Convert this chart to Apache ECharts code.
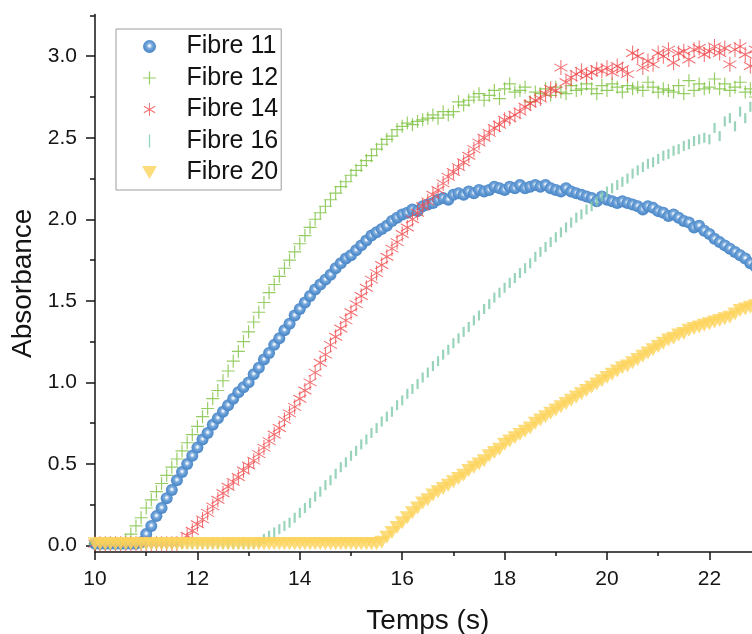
<!DOCTYPE html>
<html><head><meta charset="utf-8">
<script src="https://cdn.jsdelivr.net/npm/echarts@6/dist/echarts.min.js"></script>
<style>html,body{margin:0;padding:0;background:#fff}#c{width:752px;height:634px}</style>
</head><body><div id="c"></div>
<script>
const times = [
10.0,10.1,10.2,10.3,10.4,10.5,10.6,10.7,10.8,10.9,
11.0,11.1,11.2,11.3,11.4,11.5,11.6,11.7,11.8,11.9,
12.0,12.1,12.2,12.3,12.4,12.5,12.6,12.7,12.8,12.9,
13.0,13.1,13.2,13.3,13.4,13.5,13.6,13.7,13.8,13.9,
14.0,14.1,14.2,14.3,14.4,14.5,14.6,14.7,14.8,14.9,
15.0,15.1,15.2,15.3,15.4,15.5,15.6,15.7,15.8,15.9,
16.0,16.1,16.2,16.3,16.4,16.5,16.6,16.7,16.8,16.9,
17.0,17.1,17.2,17.3,17.4,17.5,17.6,17.7,17.8,17.9,
18.0,18.1,18.2,18.3,18.4,18.5,18.6,18.7,18.8,18.9,
19.0,19.1,19.2,19.3,19.4,19.5,19.6,19.7,19.8,19.9,
20.0,20.1,20.2,20.3,20.4,20.5,20.6,20.7,20.8,20.9,
21.0,21.1,21.2,21.3,21.4,21.5,21.6,21.7,21.8,21.9,
22.0,22.1,22.2,22.3,22.4,22.5,22.6,22.7,22.8,22.9,
23.0];

const fibre11 = [
0.01,0.01,0.01,0.01,0.01,0.01,0.01,0.01,0.01,0.02,
0.07,0.12,0.18,0.23,0.29,0.34,0.40,0.45,0.50,0.55,
0.60,0.65,0.69,0.74,0.78,0.82,0.86,0.90,0.94,0.97,
1.00,1.05,1.09,1.14,1.18,1.23,1.27,1.32,1.36,1.41,
1.45,1.49,1.53,1.57,1.60,1.63,1.66,1.70,1.73,1.76,
1.78,1.81,1.84,1.87,1.90,1.92,1.94,1.96,1.99,2.01,
2.03,2.04,2.06,2.05,2.08,2.09,2.10,2.12,2.13,2.12,
2.15,2.16,2.15,2.17,2.16,2.18,2.17,2.18,2.20,2.19,
2.18,2.20,2.19,2.21,2.19,2.20,2.21,2.20,2.21,2.19,
2.18,2.17,2.19,2.17,2.16,2.15,2.14,2.13,2.11,2.14,
2.12,2.11,2.10,2.11,2.10,2.09,2.08,2.06,2.08,2.07,
2.05,2.04,2.02,2.03,2.01,1.99,1.98,1.95,1.96,1.93,
1.91,1.88,1.86,1.84,1.82,1.80,1.78,1.76,1.73,1.71,
1.69];

const fibre12 = [
0.01,0.01,0.01,0.01,0.01,0.01,0.03,0.07,0.12,0.17,
0.23,0.28,0.33,0.38,0.43,0.48,0.53,0.58,0.63,0.68,
0.73,0.79,0.84,0.90,0.95,1.01,1.07,1.13,1.19,1.25,
1.31,1.37,1.43,1.49,1.55,1.60,1.65,1.70,1.75,1.80,
1.85,1.90,1.95,2.00,2.04,2.08,2.12,2.16,2.20,2.23,
2.27,2.30,2.33,2.36,2.39,2.43,2.46,2.49,2.51,2.55,
2.57,2.59,2.58,2.60,2.61,2.62,2.64,2.62,2.66,2.64,
2.66,2.72,2.70,2.73,2.75,2.77,2.73,2.76,2.79,2.74,
2.80,2.83,2.78,2.79,2.81,2.72,2.78,2.77,2.80,2.76,
2.81,2.78,2.77,2.82,2.79,2.80,2.83,2.80,2.77,2.82,
2.79,2.83,2.81,2.78,2.82,2.80,2.81,2.79,2.84,2.81,
2.78,2.80,2.79,2.78,2.82,2.77,2.85,2.79,2.83,2.80,
2.81,2.86,2.80,2.83,2.79,2.81,2.84,2.78,2.80,2.75,
2.79];

const fibre14 = [
0.01,0.01,0.01,0.01,0.01,0.01,0.01,0.01,0.01,0.01,
0.01,0.01,0.01,0.01,0.01,0.01,0.01,0.03,0.06,0.09,
0.13,0.16,0.20,0.24,0.28,0.32,0.36,0.39,0.42,0.46,
0.49,0.52,0.56,0.60,0.64,0.68,0.72,0.77,0.81,0.85,
0.90,0.95,1.00,1.06,1.12,1.17,1.23,1.28,1.33,1.38,
1.43,1.48,1.53,1.58,1.63,1.67,1.72,1.77,1.82,1.86,
1.91,1.95,2.00,2.04,2.08,2.11,2.15,2.18,2.22,2.26,
2.29,2.32,2.35,2.39,2.43,2.47,2.50,2.53,2.56,2.58,
2.61,2.62,2.64,2.66,2.69,2.71,2.73,2.74,2.77,2.80,
2.79,2.93,2.84,2.87,2.89,2.91,2.88,2.90,2.92,2.91,
2.93,2.90,2.94,2.92,2.89,3.02,3.00,2.93,2.97,2.95,
3.02,3.00,3.04,2.96,3.02,3.03,2.98,3.04,3.05,3.01,
3.03,3.06,3.02,3.05,2.95,3.04,3.06,3.01,2.94,3.04,
3.05];

const fibre16 = [
0.01,0.01,0.01,0.01,0.01,0.01,0.01,0.01,0.01,0.01,
0.01,0.01,0.01,0.01,0.01,0.01,0.01,0.01,0.01,0.01,
0.01,0.01,0.01,0.01,0.01,0.01,0.01,0.01,0.01,0.01,
0.01,0.01,0.02,0.04,0.06,0.08,0.10,0.12,0.14,0.17,
0.20,0.23,0.26,0.30,0.33,0.37,0.40,0.44,0.48,0.51,
0.55,0.58,0.62,0.65,0.69,0.72,0.76,0.79,0.82,0.86,
0.89,0.93,0.96,0.99,1.03,1.06,1.10,1.13,1.17,1.20,
1.24,1.27,1.31,1.34,1.38,1.41,1.45,1.48,1.52,1.55,
1.58,1.61,1.64,1.67,1.70,1.73,1.77,1.80,1.83,1.86,
1.89,1.92,1.95,1.98,2.01,2.03,2.06,2.08,2.11,2.14,
2.17,2.19,2.21,2.23,2.25,2.28,2.30,2.32,2.34,2.35,
2.37,2.39,2.40,2.42,2.43,2.45,2.46,2.48,2.49,2.50,
2.49,2.56,2.51,2.60,2.62,2.57,2.66,2.62,2.69,2.65,
2.70];

const fibre20 = [
0.01,0.01,0.01,0.01,0.01,0.01,0.01,0.01,0.01,0.01,
0.01,0.01,0.01,0.01,0.01,0.01,0.01,0.01,0.01,0.01,
0.01,0.01,0.01,0.01,0.01,0.01,0.01,0.01,0.01,0.01,
0.01,0.01,0.01,0.01,0.01,0.01,0.01,0.01,0.01,0.01,
0.01,0.01,0.01,0.01,0.01,0.01,0.01,0.01,0.01,0.01,
0.01,0.01,0.01,0.01,0.01,0.01,0.02,0.05,0.08,0.11,
0.14,0.17,0.20,0.23,0.26,0.28,0.31,0.33,0.35,0.37,
0.39,0.41,0.43,0.46,0.48,0.50,0.52,0.55,0.57,0.59,
0.62,0.64,0.66,0.68,0.70,0.72,0.75,0.77,0.79,0.81,
0.83,0.85,0.87,0.89,0.91,0.93,0.95,0.97,0.99,1.01,
1.03,1.05,1.07,1.09,1.10,1.12,1.14,1.16,1.18,1.20,
1.22,1.24,1.26,1.27,1.29,1.30,1.32,1.33,1.34,1.35,
1.36,1.37,1.38,1.39,1.40,1.42,1.44,1.45,1.46,1.47,
1.48];

const seriesNames = ['Fibre 11', 'Fibre 12', 'Fibre 14', 'Fibre 16', 'Fibre 20'];
const xTickLabels = [10, 12, 14, 16, 18, 20, 22];
const yTickValues = [0, 0.5, 1, 1.5, 2, 2.5, 3];

const FONT = 'Liberation Sans, Arial, Helvetica, sans-serif';
const INK = '#141414';
const pair = arr => times.map((t, i) => [t, arr[i]]);

const plusPath = 'path://M-0.9,-10H0.9V-0.9H10V0.9H0.9V10H-0.9V0.9H-10V-0.9H-0.9Z';
const starPath = 'path://M0.7,-10L-0.7,-10L-0.7,10L0.7,10Z M8.31,5.61L9.01,4.39L-8.31,-5.61L-9.01,-4.39Z M9.01,-4.39L8.31,-5.61L-9.01,4.39L-8.31,5.61Z';
const dashPath = 'path://M0,0H1V10H0Z';
const triDownPath = 'path://M0,0H10L5,8.66Z';

const blueBall = {
  type: 'radial', x: 0.5, y: 0.45, r: 0.55,
  colorStops: [
    { offset: 0, color: '#ffffff' },
    { offset: 0.12, color: '#e6f0fa' },
    { offset: 0.38, color: '#7aaadc' },
    { offset: 0.7, color: '#5892cf' },
    { offset: 1, color: '#4a86c6' }
  ]
};

const chart = echarts.init(document.getElementById('c'), null, { renderer: 'canvas' });
chart.setOption({
  animation: false,
  backgroundColor: '#ffffff',
  textStyle: { fontFamily: FONT },
  grid: { left: 95, right: -8.6, top: 14.6, bottom: 82, containLabel: false, outerBoundsMode: 'none' },
  legend: {
    data: seriesNames,
    orient: 'vertical',
    left: 116, top: 29,
    padding: [5, 3, 5, 26],
    itemWidth: 64, itemHeight: 13, itemGap: 6.5,
    selectedMode: false,
    borderColor: '#9c9c9c', borderWidth: 1, borderRadius: 0,
    backgroundColor: '#ffffff',
    textStyle: { fontSize: 25, color: INK, fontFamily: FONT }
  },
  xAxis: {
    type: 'value', min: 10, max: 23, interval: 2,
    axisLine: { show: true, onZero: false, lineStyle: { color: INK, width: 1.5 } },
    axisTick: { show: true, length: 8, lineStyle: { color: INK, width: 1.5 } },
    minorTick: { show: true, splitNumber: 2, length: 4, lineStyle: { color: INK, width: 1.5 } },
    splitLine: { show: false },
    axisLabel: {
      showMaxLabel: false, fontSize: 21, margin: 17, color: INK, fontFamily: FONT,
      formatter: v => (xTickLabels.indexOf(v) >= 0 ? String(v) : '')
    },
    name: 'Temps (s)', nameLocation: 'middle', nameGap: 55,
    nameTextStyle: { fontSize: 28, color: INK, fontFamily: FONT }
  },
  yAxis: {
    type: 'value', min: -0.04, max: 3.255, minInterval: 0.5, maxInterval: 0.5,
    axisLine: { show: true, onZero: false, lineStyle: { color: INK, width: 1.5 } },
    axisTick: { show: true, length: 9, customValues: yTickValues, lineStyle: { color: INK, width: 1.5 } },
    minorTick: { show: true, splitNumber: 2, length: 5, lineStyle: { color: INK, width: 1.5 } },
    splitLine: { show: false },
    axisLabel: {
      customValues: yTickValues, fontSize: 21, margin: 18, color: INK, fontFamily: FONT,
      formatter: v => Number(v).toFixed(1)
    },
    name: 'Absorbance', nameLocation: 'middle', nameGap: 53, nameRotate: 90,
    nameTextStyle: { fontSize: 28, color: INK, fontFamily: FONT }
  },
  series: [
    { name: seriesNames[0], type: 'scatter', data: pair(fibre11), symbol: 'circle', symbolSize: 12,
      itemStyle: { color: blueBall, opacity: 1 } },
    { name: seriesNames[1], type: 'scatter', data: pair(fibre12), symbol: plusPath, symbolSize: 13,
      itemStyle: { color: '#7bc03d' } },
    { name: seriesNames[2], type: 'scatter', data: pair(fibre14), symbol: starPath, symbolSize: 15, symbolKeepAspect: true,
      itemStyle: { color: '#f04a4c' } },
    { name: seriesNames[3], type: 'scatter', data: pair(fibre16), symbol: dashPath, symbolSize: [2.2, 10],
      itemStyle: { color: '#7fc9a9' } },
    { name: seriesNames[4], type: 'scatter', data: pair(fibre20), symbol: triDownPath, symbolSize: 15, symbolKeepAspect: true,
      itemStyle: { color: '#fdd35b' } }
  ]
});
</script>
</body></html>
